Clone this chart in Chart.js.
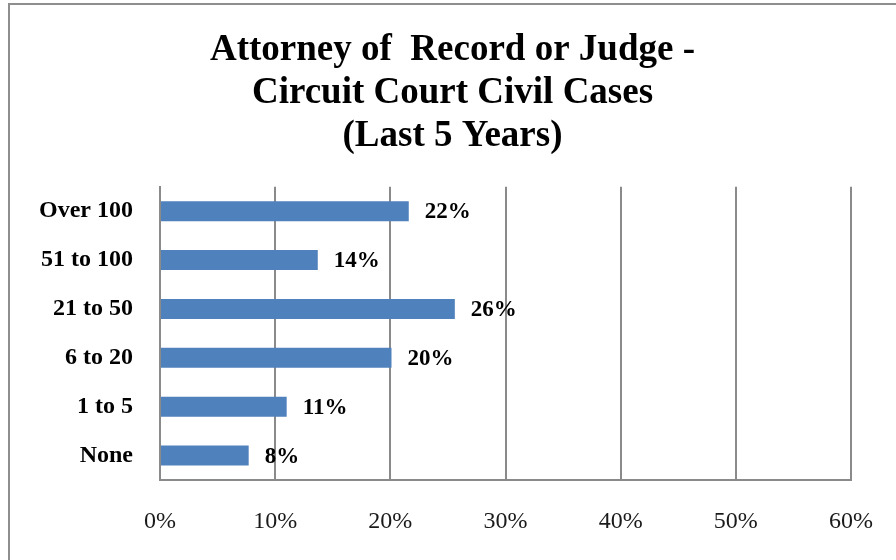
<!DOCTYPE html>
<html>
<head>
<meta charset="utf-8">
<script src="https://cdn.jsdelivr.net/npm/chart.js@4/dist/chart.umd.min.js"></script>
<style>
  html, body { margin: 0; padding: 0; background: #fff; overflow: hidden; }
  #wrap { position: relative; width: 896px; height: 560px; }
  #frame { position: absolute; left: 8px; top: 3px; width: 1200px; height: 900px;
           border: 2px solid #8e8e8e; box-sizing: border-box; pointer-events: none; }
  canvas { position: absolute; left: 0; top: 0; }
</style>
</head>
<body>
<div id="wrap">
  <canvas id="c" width="896" height="560"></canvas>
  <div id="frame"></div>
</div>
<script>
const titleLines = ['Attorney of  Record or Judge -', 'Circuit Court Civil Cases', '(Last 5 Years)'];
const categories = ['Over 100', '51 to 100', '21 to 50', '6 to 20', '1 to 5', 'None'];
const percentValues = [21.6, 13.7, 25.6, 20.1, 11.0, 7.7];
const tickMax = 60;
const tickStep = 10;

const serif = '"Liberation Serif", "Times New Roman", serif';

const dataLabelPlugin = {
  id: 'dataLabels',
  afterDatasetsDraw(chart) {
    const ctx = chart.ctx;
    const meta = chart.getDatasetMeta(0);
    ctx.save();
    ctx.font = 'bold 23px ' + serif;
    ctx.fillStyle = '#000';
    ctx.textAlign = 'left';
    ctx.textBaseline = 'middle';
    meta.data.forEach((bar, i) => {
      ctx.fillText(Math.round(percentValues[i]) + '%', bar.x + 16, bar.y + 1);
    });
    ctx.restore();
  }
};

// shift the title block a little to the right, as in the reference
const titleShiftPlugin = {
  id: 'titleShift',
  afterLayout(chart) {
    const t = chart.titleBlock;
    if (t) { t.left += 12; t.right += 12; }
  }
};

new Chart(document.getElementById('c'), {
  type: 'bar',
  data: {
    labels: categories,
    datasets: [{
      data: percentValues,
      backgroundColor: '#4F81BD',
      borderWidth: 0,
      categoryPercentage: 1,
      barPercentage: 0.41
    }]
  },
  options: {
    indexAxis: 'y',
    responsive: false,
    animation: false,
    devicePixelRatio: 1,
    layout: { padding: { left: 30, right: 45, top: 0, bottom: 0 } },
    plugins: {
      legend: { display: false },
      tooltip: { enabled: false },
      title: {
        display: true,
        text: titleLines,
        color: '#000',
        font: { family: serif, size: 37, weight: 'bold', lineHeight: 1.16 },
        padding: { top: 29, bottom: 29 }
      }
    },
    scales: {
      x: {
        min: 0,
        max: tickMax,
        ticks: {
          stepSize: tickStep,
          callback: v => v + '%',
          color: '#1a1a1a',
          font: { family: serif, size: 24 },
          padding: 27,
          maxRotation: 0
        },
        grid: { color: '#8a8a8a', lineWidth: 2, drawTicks: false },
        border: { display: true, color: '#8a8a8a', width: 2 },
        afterFit(scale) { scale.height = 80; scale.paddingRight = 0; scale.paddingLeft = 0; }
      },
      y: {
        ticks: {
          color: '#000',
          font: { family: serif, size: 24, weight: 'bold' },
          padding: 27
        },
        grid: { display: false, drawTicks: false },
        border: { display: true, color: '#8a8a8a', width: 2 },
        afterFit(scale) { scale.width = 130; }
      }
    }
  },
  plugins: [dataLabelPlugin, titleShiftPlugin]
});
</script>
</body>
</html>
